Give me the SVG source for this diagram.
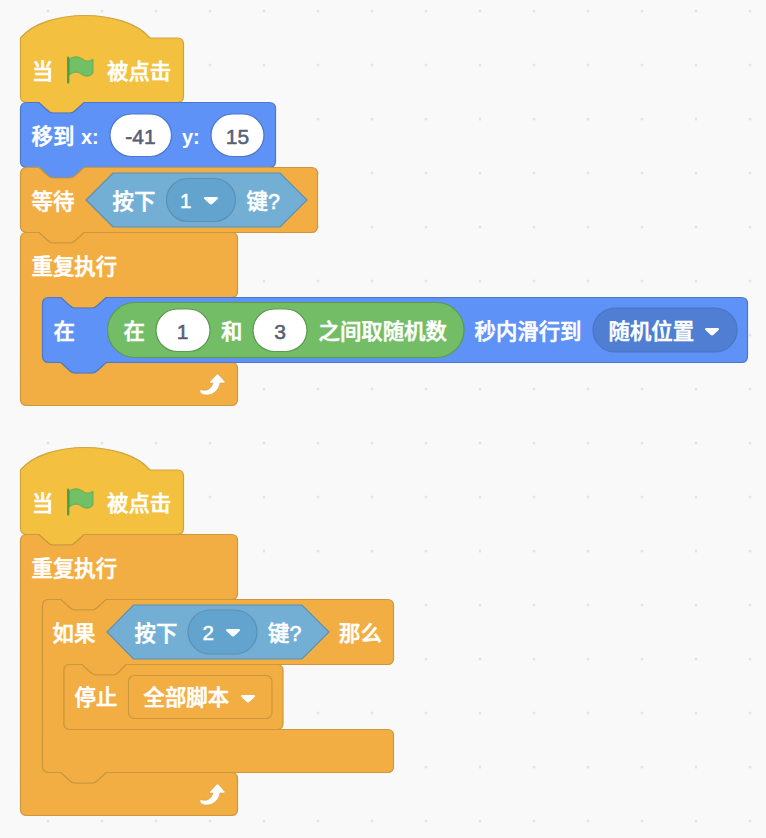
<svg xmlns="http://www.w3.org/2000/svg" width="766" height="838" viewBox="0 0 766 838">
<style>
.t{font-family:"Liberation Sans","Noto Sans CJK SC",sans-serif;font-size:21.4px;font-weight:500;fill:#fff;stroke:#fff;stroke-width:.55px}
.l{font-weight:700;font-size:20px;stroke-width:0}
.d{font-size:20.500px;stroke-width:.5px}
.n{fill:#575e75;stroke:#575e75;stroke-width:.55px;text-anchor:middle;font-weight:400;font-size:21px}
.hat{fill:#f3c13f;stroke:#cfa33e}
.mot{fill:#5e92f7;stroke:#4c78c9}
.ctl{fill:#f2ae42;stroke:#cb983e}
.sen{fill:#73afd4;stroke:#5b90b5}
.pil{fill:#63a4cf;stroke:#5b90b5}
.opr{fill:#74bd67;stroke:#5b9a51}
.inp{fill:#fff;stroke:#4c78c9}
.inq{fill:#fff;stroke:#5b9a51}
.mnu{fill:#4f7ed2;stroke:#4a75c4}
.dot{fill:#e3e3e3}
path,rect{stroke-width:1.200px}
</style>
<defs>
<path id="caret" d="M1.500,0H12.500Q14.700,0 13.800,1.800Q11,4.500 8.500,6.800Q7,8 5.500,6.800Q3,4.500 .2,1.800Q-.7,0 1.500,0Z" fill="#fff" style="stroke:none"/>
<g id="flag"><path d="M69.500,59C75,55 80,57 84,60C87,62 90,61 93,59V73C90,77 85,77 81,74C77,71 73,72 69.500,75Z" fill="#72bf65" stroke="#5fa257" style="stroke-width:.8px"/><rect x="67" y="56.500" width="2.400" height="27" rx="1.200" fill="#4f9f4a" style="stroke:none"/></g>
<path id="loop" d="M200,389.500C206,391.500 211,390 213,383H210.500Q209,382.500 210,381.500L216.500,374.500Q217.500,373.500 218.500,374.500L224.800,381.500Q225.500,382.500 224,383H220C219,391 211,397 203,394.500Q199,393 200,389.500Z" fill="#fff" stroke="#cb983e" style="stroke-width:.5px"/>
<pattern id="grid" x="21" y="-16" width="54" height="54" patternUnits="userSpaceOnUse"><circle cx="27" cy="27" r="1.500" class="dot"/></pattern>
</defs>
<rect width="766" height="838" fill="#f9f9f9" style="stroke:none"/>
<rect width="766" height="838" fill="url(#grid)" style="stroke:none"/>

<g id="hat1">
<path class="hat" d="M20.500,38C45,8 125,8 150,38H177.500Q183.500,38 183.500,44V96.500Q183.500,102.500 177.500,102.500H84L76,110Q73,113 70,113H53Q50,113 47,110L39,102.500H27Q20.500,102.500 20.500,96.500Z"/>
<text class="t" x="32" y="79">当</text>
<use href="#flag"/>
<text class="t" x="107" y="79">被点击</text>
</g>

<g id="move">
<path class="mot" d="M20.500,109Q20.500,102.500 27,102.500H39L47,110Q50,113 53,113H70Q73,113 76,110L84,102.500H269.500Q275.500,102.500 275.500,108.500V161.500Q275.500,167.500 269.500,167.500H84L76,175Q73,178 70,178H53Q50,178 47,175L39,167.500H27Q20.500,167.500 20.500,161.500Z"/>
<text class="t" x="31.500" y="144">移到</text>
<text class="t l" x="81" y="144">x:</text>
<rect class="inp" x="110" y="114" width="61.500" height="42.500" rx="21.250"/>
<text class="t n" x="140.500" y="144">-41</text>
<text class="t l" x="182" y="144">y:</text>
<rect class="inp" x="211" y="114" width="53" height="42.500" rx="21.250"/>
<text class="t n" x="237.500" y="144">15</text>
</g>

<g id="wait">
<path class="ctl" d="M20.500,174Q20.500,167.500 27,167.500H39L47,175Q50,178 53,178H70Q73,178 76,175L84,167.500H311.500Q317.500,167.500 317.500,173.500V226.500Q317.500,232.500 311.500,232.500H84L76,240Q73,243 70,243H53Q50,243 47,240L39,232.500H27Q20.500,232.500 20.500,226.500Z"/>
<text class="t" x="31.500" y="209">等待</text>
<path class="sen" d="M113,173H280L307,200L280,227H113L86,200Z"/>
<text class="t" x="112.500" y="209">按下</text>
<rect class="pil" x="166.500" y="178.500" width="69" height="43" rx="21.500"/>
<text class="t d" x="180" y="208">1</text>
<use href="#caret" x="204" y="197"/>
<text class="t" x="246.500" y="209">键?</text>
</g>

<g id="forever1">
<path class="ctl" d="M20.500,239Q20.500,232.500 27,232.500H39L47,240Q50,243 53,243H70Q73,243 76,240L84,232.500H231.500Q237.500,232.500 237.500,238.500V291.500Q237.500,297.500 231.500,297.500H106L98,305Q95,308 92,308H75Q72,308 69,305L61,297.500H49Q42.500,297.500 42.500,304V356Q42.500,362.500 49,362.500H61L69,370Q72,373 75,373H92Q95,373 98,370L106,362.500H231.500Q237.500,362.500 237.500,368.500V399Q237.500,405.500 231.500,405.500H27Q20.500,405.500 20.500,399Z"/>
<text class="t" x="31.500" y="274">重复执行</text>
<use href="#loop"/>
</g>

<g id="glide">
<path class="mot" d="M42.500,304Q42.500,297.500 49,297.500H61L69,305Q72,308 75,308H92Q95,308 98,305L106,297.500H741.500Q747.500,297.500 747.500,303.500V356.500Q747.500,362.500 741.500,362.500H106L98,370Q95,373 92,373H75Q72,373 69,370L61,362.500H49Q42.500,362.500 42.500,356Z"/>
<text class="t" x="53.500" y="339">在</text>
<rect class="opr" x="107.500" y="302.500" width="356.500" height="55" rx="27.500"/>
<text class="t" x="123.500" y="339">在</text>
<rect class="inq" x="156" y="309" width="54" height="42.500" rx="21.250"/>
<text class="t n" x="182.500" y="339">1</text>
<text class="t" x="221" y="339">和</text>
<rect class="inq" x="253" y="309" width="54" height="42.500" rx="21.250"/>
<text class="t n" x="280" y="339">3</text>
<text class="t" x="318.500" y="339">之间取随机数</text>
<text class="t" x="474.500" y="339">秒内滑行到</text>
<rect class="mnu" x="593" y="308" width="144" height="44" rx="22"/>
<text class="t" x="608.500" y="339">随机位置</text>
<use href="#caret" x="705" y="328"/>
</g>

<g id="hat2">
<path class="hat" d="M20.500,470C45,440 125,440 150,470H177.500Q183.500,470 183.500,476V528.500Q183.500,534.500 177.500,534.500H84L76,542Q73,545 70,545H53Q50,545 47,542L39,534.500H27Q20.500,534.500 20.500,528.500Z"/>
<text class="t" x="32" y="511">当</text>
<use href="#flag" y="432"/>
<text class="t" x="107" y="511">被点击</text>
</g>

<g id="forever2">
<path class="ctl" d="M20.500,541Q20.500,534.500 27,534.500H39L47,542Q50,545 53,545H70Q73,545 76,542L84,534.500H231.500Q237.500,534.500 237.500,540.500V593.500Q237.500,599.500 231.500,599.500H106L98,607Q95,610 92,610H75Q72,610 69,607L61,599.500H49Q42.500,599.500 42.500,606V766Q42.500,772.500 49,772.500H61L69,780Q72,783 75,783H92Q95,783 98,780L106,772.500H231.500Q237.500,772.500 237.500,778.500V809.500Q237.500,815.500 231.500,815.500H27Q20.500,815.500 20.500,809.500Z"/>
<text class="t" x="31.500" y="576">重复执行</text>
<use href="#loop" y="410"/>
</g>

<g id="ifthen">
<path class="ctl" d="M42.500,606Q42.500,599.500 49,599.500H61L69,607Q72,610 75,610H92Q95,610 98,607L106,599.500H387.500Q393.500,599.500 393.500,605.500V658.500Q393.500,664.500 387.500,664.500H126L119,672Q116,675 113,675H96Q93,675 90,672L82,664.500H70Q64,664.500 64,670.500V723.500Q64,729.500 70,729.500H387.500Q393.500,729.500 393.500,735.500V766.500Q393.500,772.500 387.500,772.500H106L98,780Q95,783 92,783H75Q72,783 69,780L61,772.500H49Q42.500,772.500 42.500,766Z"/>
<text class="t" x="52.500" y="641">如果</text>
<path class="sen" d="M133.500,605H302L329,632L302,659H133.500L107,632Z"/>
<text class="t" x="134.500" y="641">按下</text>
<rect class="pil" x="188" y="610" width="69" height="44" rx="22"/>
<text class="t d" x="202.500" y="640">2</text>
<use href="#caret" x="226" y="629"/>
<text class="t" x="268" y="641">键?</text>
<text class="t" x="339" y="641">那么</text>
</g>

<g id="stop">
<path class="ctl" d="M64,670.500Q64,664.500 70,664.500H82L90,672Q93,675 96,675H113Q116,675 119,672L126,664.500H277Q283,664.500 283,670.500V723.500Q283,729.500 277,729.500H70Q64,729.500 64,723.500Z"/>
<text class="t" x="74.500" y="705">停止</text>
<rect x="128.500" y="675.500" width="143.500" height="43" rx="6" fill="#f2ae42" stroke="#cb983e"/>
<text class="t" x="143.500" y="705">全部脚本</text>
<use href="#caret" x="241" y="695"/>
</g>
</svg>
